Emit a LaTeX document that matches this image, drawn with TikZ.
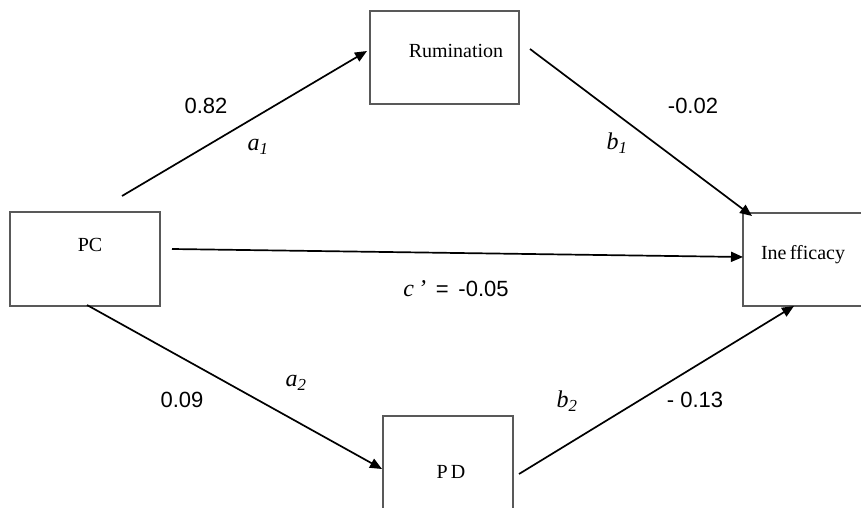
\documentclass[tikz,border=0pt]{standalone}
\usepackage{fontspec}
\setmainfont{Liberation Serif}
\newfontfamily\numfont{Liberation Sans}
\usetikzlibrary{arrows.meta}

\begin{document}
\begin{tikzpicture}[x=1pt, y=-1pt, line width=1.7pt,
    box/.style={draw=black!65, line width=1.4pt, inner sep=0pt},
    boxtext/.style={font=\fontsize{20}{24}\selectfont},
    coef/.style={font=\numfont\fontsize{22}{26}\selectfont},
    path/.style={font=\itshape\fontsize{24}{28}\selectfont},
    arr/.style={-{Triangle[length=12pt,width=10pt]}}]
        \useasboundingbox (0,0) rectangle (861,508);
        \clip (0,0) rectangle (861,508);

        % Boxes
        \node[box, minimum width=150pt, minimum height=94pt] (pc) at (85,259) {};
        \node[box, minimum width=149pt, minimum height=93pt] (rum) at (444.5,57.5) {};
        \node[box, minimum width=150pt, minimum height=93pt] (ineff) at (818,259.5) {};
        \node[box, minimum width=130pt, minimum height=94pt] (pd) at (448,463) {};

        % Box labels
        \node[boxtext] (pcText) at (90,245) {PC};
        \node[boxtext] (rumText) at (456,51) {Rumination};
        \node[boxtext] (ineffText) at (803,255) {Ine\,fficacy};
        \node[boxtext] (pdText) at (451,472) {P\,D};

        % Arrow ends
        \coordinate (pcTop) at (122,196);
        \coordinate (rumLeft) at (367,51);
        \coordinate (rumRight) at (530,49);
        \coordinate (ineffTop) at (752,216);
        \coordinate (pcRight) at (172,249);
        \coordinate (ineffLeft) at (743,257);
        \coordinate (pcBottom) at (87,305);
        \coordinate (pdLeft) at (382,469);
        \coordinate (pdRight) at (519,474);
        \coordinate (ineffBottom) at (794,306);

        % Paths
        \draw[arr] (pcTop) -- (rumLeft);
        \draw[arr] (rumRight) -- (ineffTop);
        \draw[arr] (pcRight) -- (ineffLeft);
        \draw[arr] (pcBottom) -- (pdLeft);
        \draw[arr] (pdRight) -- (ineffBottom);

        % Coefficients
        \node[coef] (a1Val) at (206,106) {0.82};
        \node[path] (a1Lab) at (258,147) {a\textsubscript{1}};
        \node[coef] (b1Val) at (693,106) {-0.02};
        \node[path] (b1Lab) at (617,143) {b\textsubscript{1}};
        \node[coef] (a2Val) at (182,400) {0.09};
        \node[path] (a2Lab) at (296,383) {a\textsubscript{2}};
        \node[coef] (b2Val) at (695,400) {- 0.13};
        \node[path] (b2Lab) at (567,401) {b\textsubscript{2}};
        \node[coef] (cVal) at (456,289) {{\rmfamily\itshape\fontsize{24}{28}\selectfont c\,'}\, = \,-0.05};
      \end{tikzpicture}
\end{document}
